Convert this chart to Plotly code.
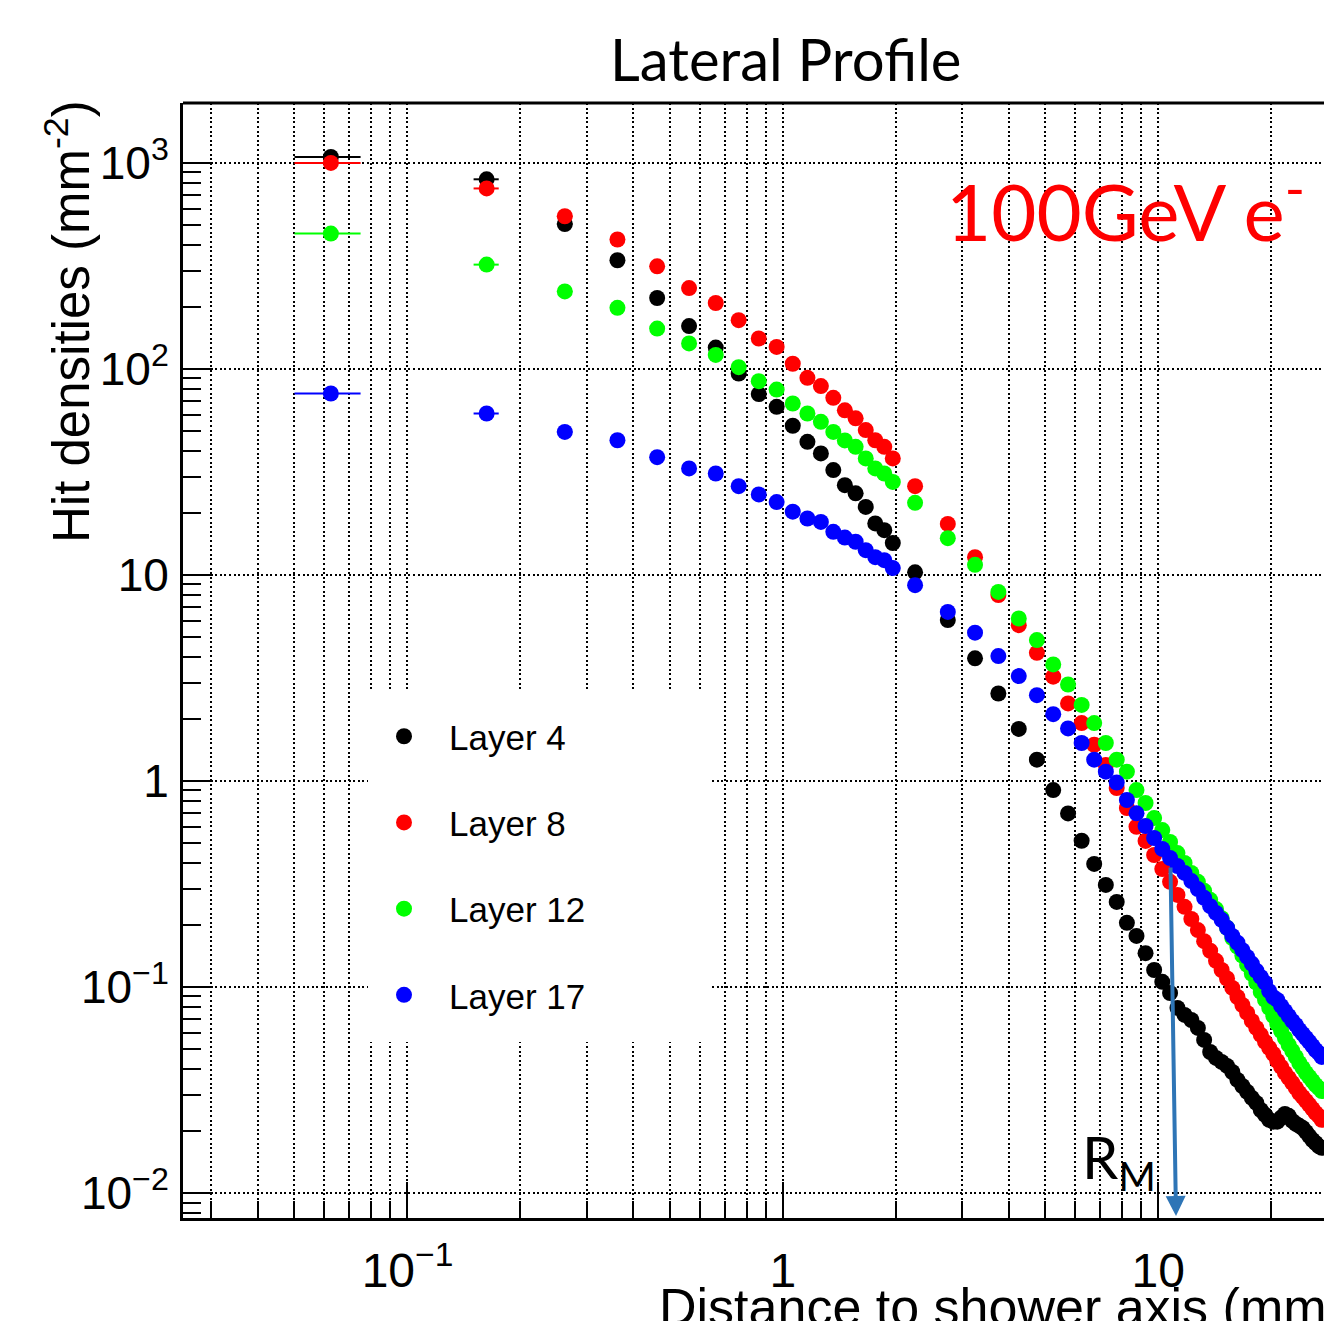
import plotly.graph_objects as go

# ---------------- data ----------------
x_fine = [0.0625, 0.1625, 0.2625, 0.3625, 0.4625, 0.5625, 0.6625, 0.7625, 0.8625, 0.9625,
          1.0625, 1.1625, 1.2625, 1.3625, 1.4625, 1.5625, 1.6625, 1.7625, 1.8625, 1.9625]
x_coarse = [2.25, 2.75, 3.25, 3.75, 4.25, 4.75, 5.25, 5.75, 6.25, 6.75,
            7.25, 7.75, 8.25, 8.75, 9.25, 9.75, 10.25, 10.75, 11.25, 11.75,
            12.25, 12.75, 13.25, 13.75, 14.25, 14.75, 15.25, 15.75, 16.25, 16.75,
            17.25, 17.75, 18.25, 18.75, 19.25, 19.75, 20.25, 20.75, 21.25, 21.75,
            22.25, 22.75, 23.25, 23.75, 24.25, 24.75, 25.25, 25.75, 26.25, 26.75, 27.25]
x_half_width = 0.0125

layer4_fine = [1070, 833, 505, 337, 221, 161.5, 127, 95, 75.5, 65.5,
               53, 44.3, 38.9, 32.3, 27.3, 24.9, 21.4, 17.8, 16.5, 14.3]
layer4_coarse = [10.3, 6.04, 3.94, 2.66, 1.79, 1.27, 0.904, 0.696, 0.513, 0.396,
                 0.313, 0.259, 0.205, 0.177, 0.146, 0.121, 0.106, 0.0936, 0.0792, 0.0732,
                 0.0692, 0.0633, 0.0554, 0.0484, 0.0453, 0.0433, 0.0414, 0.0387, 0.0354, 0.0331,
                 0.0310, 0.0290, 0.0274, 0.0253, 0.0240, 0.0227, 0.0222, 0.0222, 0.0232, 0.0242,
                 0.0237, 0.0224, 0.0217, 0.0212, 0.0207, 0.0198, 0.0189, 0.0181, 0.0175, 0.0169, 0.0166]

layer8_fine = [1000, 752, 551, 425, 315, 247, 209, 172.6, 140.6, 128,
               106, 90.6, 82.6, 72.4, 63, 57.6, 50.5, 45.1, 41.9, 36.8]
layer8_coarse = [27, 17.7, 12.2, 8.0, 5.71, 4.19, 3.21, 2.38, 1.91, 1.50,
                 1.196, 0.925, 0.740, 0.600, 0.512, 0.4375, 0.374, 0.324, 0.280, 0.245,
                 0.214, 0.189, 0.167, 0.150, 0.134, 0.121, 0.110, 0.099, 0.0895, 0.0818,
                 0.0749, 0.0685, 0.0633, 0.0586, 0.0542, 0.0507, 0.0474, 0.0438, 0.0410, 0.0383,
                 0.0362, 0.0343, 0.0324, 0.0306, 0.0293, 0.0280, 0.0268, 0.0256, 0.0245, 0.0237, 0.0227]

layer12_fine = [454, 321, 238, 198, 157, 133, 117, 102, 87.3, 79.4,
                68, 60.8, 55.4, 49.5, 45, 41.9, 36.8, 32.9, 31.1, 28.3]
layer12_coarse = [22.4, 15.1, 11.2, 8.28, 6.15, 4.83, 3.68, 2.94, 2.34, 1.91,
                  1.53, 1.27, 1.11, 0.904, 0.782, 0.661, 0.578, 0.506, 0.447, 0.400,
                  0.358, 0.324, 0.293, 0.265, 0.239, 0.216, 0.194, 0.173, 0.157, 0.142,
                  0.128, 0.116, 0.105, 0.0947, 0.0866, 0.0792, 0.0724, 0.0662, 0.0612, 0.0566,
                  0.0524, 0.0490, 0.0458, 0.0428, 0.0405, 0.0383, 0.0366, 0.0350, 0.0335, 0.0324, 0.0313]

layer17_fine = [76, 60.8, 49.5, 45.1, 37.3, 32.9, 31.1, 27, 24.6, 22.6,
                20.3, 18.8, 18.1, 16.2, 15.2, 14.5, 13.2, 12.2, 11.8, 10.8]
layer17_coarse = [8.93, 6.62, 5.25, 4.04, 3.23, 2.61, 2.11, 1.80, 1.53, 1.27,
                  1.11, 0.983, 0.809, 0.697, 0.605, 0.529, 0.468, 0.423, 0.387, 0.358,
                  0.327, 0.299, 0.271, 0.247, 0.229, 0.212, 0.194, 0.177, 0.164, 0.151,
                  0.140, 0.130, 0.120, 0.112, 0.105, 0.0955, 0.0893, 0.0866, 0.0810, 0.0766,
                  0.0724, 0.0685, 0.0655, 0.0619, 0.0592, 0.0566, 0.0542, 0.0518, 0.0495, 0.0479, 0.0458]

layer_names = ["Layer 4", "Layer 8", "Layer 12", "Layer 17"]
layer_colors = ["#000000", "#ff0000", "#00ff00", "#0000ff"]
layer_fine = [layer4_fine, layer8_fine, layer12_fine, layer17_fine]
layer_coarse = [layer4_coarse, layer8_coarse, layer12_coarse, layer17_coarse]

x_tick_vals = [0.1, 1, 10]
x_tick_text = ["10<sup>\u22121</sup>", "1", "10"]
y_tick_vals = [0.01, 0.1, 1, 10, 100, 1000]
y_tick_text = ["10<sup>\u22122</sup>", "10<sup>\u22121</sup>", "1", "10", "10<sup>2</sup>", "10<sup>3</sup>"]

title_text = "Lateral Profile"
x_title = "Distance to shower axis (mm)"
y_title = "Hit densities (mm<sup>-2</sup>)"
energy_text = "100GeV e<sup>-</sup>"
rm_text = "R<sub>M</sub>"

# ---------------- layout helpers ----------------
W, H = 1324, 1321
ML, MR, MT, MB = 183, 0, 103, 103
PW, PH = W - ML - MR, H - MT - MB


def px_x(p):
    return (p - ML) / PW


def px_y(p):
    return (H - MB - p) / PH


ROOT_FONT = "Liberation Sans, Arial, Helvetica, sans-serif"
SLIDE_FONT = "Lato, Carlito, Calibri, sans-serif"
GRID = dict(gridcolor="#000000", gridwidth=1.7, griddash="2px,2.6px")

fig = go.Figure()
for name, color, yf, yc in zip(layer_names, layer_colors, layer_fine, layer_coarse):
    fig.add_trace(go.Scatter(
        x=x_fine + x_coarse, y=yf + yc, mode="markers", name=name, legendgroup=name,
        marker=dict(color=color, size=16, line=dict(width=0)),
        error_x=dict(type="constant", value=x_half_width, color=color, thickness=2, width=0),
    ))

fig.update_xaxes(
    type="log", range=[-1.598, 1.4415], tickmode="array", tickvals=x_tick_vals, ticktext=x_tick_text,
    ticks="inside", ticklen=36, tickwidth=2, tickcolor="black",
    showline=True, linewidth=3, linecolor="black", mirror=False, zeroline=False,
    showgrid=True, **GRID,
    minor=dict(dtick="D1", ticks="inside", ticklen=17, tickwidth=2, tickcolor="black",
               showgrid=True, **GRID),
    tickfont=dict(family=ROOT_FONT, size=48, color="black"), ticklabelstandoff=8,
)
fig.update_yaxes(
    type="log", range=[-2.121, 3.291], tickmode="array", tickvals=y_tick_vals, ticktext=y_tick_text,
    ticks="inside", ticklen=30, tickwidth=2, tickcolor="black",
    showline=True, linewidth=3, linecolor="black", mirror=False, zeroline=False,
    showgrid=True, **GRID,
    minor=dict(dtick="D1", ticks="inside", ticklen=18, tickwidth=2, tickcolor="black", showgrid=False),
    tickfont=dict(family=ROOT_FONT, size=46, color="black"), ticklabelstandoff=2,
)

fig.update_layout(
    width=W, height=H, autosize=False,
    margin=dict(l=ML, r=MR, t=MT, b=MB, pad=0),
    paper_bgcolor="white", plot_bgcolor="white",
    showlegend=True,
    legend=dict(x=px_x(359), y=px_y(707), xanchor="left", yanchor="top",
                bgcolor="rgba(0,0,0,0)", borderwidth=0, tracegroupgap=37.7, itemwidth=80,
                font=dict(family=ROOT_FONT, size=35, color="black")),
    shapes=[
        dict(type="rect", xref="paper", yref="paper", x0=px_x(368), x1=px_x(712),
             y0=px_y(1042), y1=px_y(690), fillcolor="white", line=dict(width=0), layer="above"),
        dict(type="line", xref="paper", yref="paper", x0=0, x1=1, y0=1, y1=1,
             line=dict(color="black", width=3)),
    ],
    annotations=[
        dict(text=title_text, xref="paper", yref="paper", x=px_x(785), y=px_y(58),
             xanchor="center", yanchor="middle", showarrow=False,
             font=dict(family=SLIDE_FONT, size=58, color="black")),
        dict(text=energy_text, xref="paper", yref="paper", x=px_x(944), y=px_y(206),
             xanchor="left", yanchor="middle", showarrow=False,
             font=dict(family=SLIDE_FONT, size=78, color="#ff0000")),
        dict(text=y_title, xref="paper", yref="paper", x=px_x(68), y=px_y(322),
             xanchor="center", yanchor="middle", showarrow=False, textangle=-90,
             font=dict(family=ROOT_FONT, size=51, color="black")),
        dict(text=x_title, xref="paper", yref="paper", x=px_x(657), y=px_y(1276),
             xanchor="left", yanchor="top", showarrow=False,
             font=dict(family=ROOT_FONT, size=52, color="black")),
        dict(text=rm_text, xref="paper", yref="paper", x=px_x(1080), y=px_y(1161),
             xanchor="left", yanchor="middle", showarrow=False,
             font=dict(family=SLIDE_FONT, size=58, color="black")),
        dict(text="", xref="paper", yref="paper", x=px_x(1176), y=px_y(1216),
             ax=-5.5, ay=-350, axref="pixel", ayref="pixel", showarrow=True,
             arrowhead=2, arrowsize=1.0, arrowwidth=4, arrowcolor="#2E75B6", standoff=0),
    ],
)

fig.write_html("out.html")
